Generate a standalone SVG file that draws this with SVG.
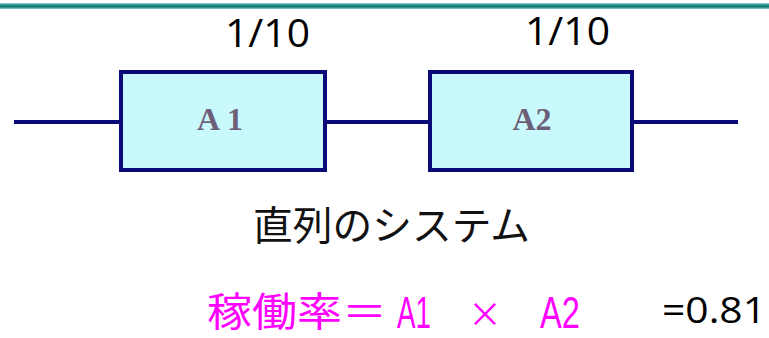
<svg xmlns="http://www.w3.org/2000/svg" width="769" height="338" viewBox="0 0 769 338">
  <defs>
    <linearGradient id="bar" x1="0" y1="0" x2="0" y2="1">
      <stop offset="0" stop-color="#9ed6e6"/>
      <stop offset="0.35" stop-color="#1e8c86"/>
      <stop offset="0.65" stop-color="#0f7a6c"/>
      <stop offset="1" stop-color="#8fd4e4"/>
    </linearGradient>
    <style>
      .box { fill: #c9f9fd; stroke: #0a0a78; stroke-width: 4; }
      .wire { stroke: #0a0a78; stroke-width: 4; fill: none; }
      .blabel { font-family: "Liberation Serif", serif; font-weight: bold; font-size: 32px; fill: #6e5f78; text-anchor: middle; }
      .prob { font-family: "Open Sans", "Liberation Sans", sans-serif; font-size: 38px; fill: #000; }
      .cap { font-family: "Noto Sans CJK JP", sans-serif; font-size: 40px; fill: #111; }
      .mag { font-family: "Noto Sans CJK JP", sans-serif; fill: #ff00ff; }
      .magl { font-family: "Liberation Sans", sans-serif; fill: #ff00ff; }
      .res { font-family: "Open Sans", "Liberation Sans", sans-serif; font-size: 36px; fill: #000; }
    </style>
  </defs>
  <rect x="0" y="0" width="769" height="338" fill="#ffffff"/>
  <rect x="0" y="3" width="769" height="6" fill="url(#bar)"/>

  <g id="connectors">
    <line class="wire" x1="14" y1="122" x2="121" y2="122"/>
    <line class="wire" x1="325" y1="122" x2="430" y2="122"/>
    <line class="wire" x1="632" y1="122" x2="738" y2="122"/>
  </g>

  <g id="A1">
    <rect class="box" x="121" y="72" width="204" height="98"/>
    <text class="blabel" x="220" y="130" textLength="46" lengthAdjust="spacing">A1</text>
  </g>
  <g id="A2">
    <rect class="box" x="430" y="72" width="202" height="98"/>
    <text class="blabel" x="532" y="130">A2</text>
  </g>

  <g id="labels">
    <text class="prob" x="225" y="47" textLength="85" lengthAdjust="spacingAndGlyphs">1/10</text>
    <text class="prob" x="525" y="45" textLength="85" lengthAdjust="spacingAndGlyphs">1/10</text>
    <text class="cap" x="253" y="240" textLength="277" lengthAdjust="spacingAndGlyphs">直列のシステム</text>
    <text class="mag" x="207" y="326" font-size="40" textLength="180" lengthAdjust="spacingAndGlyphs">稼働率＝</text>
    <text class="magl" x="397" y="328" font-size="44" textLength="34" lengthAdjust="spacingAndGlyphs">A1</text>
    <text class="mag" x="485" y="327" font-size="34" text-anchor="middle">×</text>
    <text class="magl" x="540" y="328" font-size="44" textLength="40" lengthAdjust="spacingAndGlyphs">A2</text>
    <text class="res" x="662" y="323" textLength="104" lengthAdjust="spacingAndGlyphs">=0.81</text>
  </g>
</svg>
